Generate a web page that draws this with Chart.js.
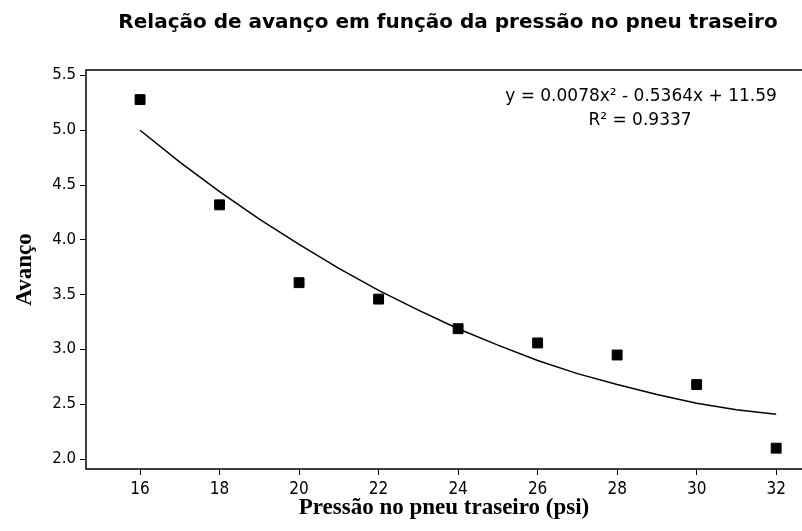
<!DOCTYPE html>
<html lang="pt">
<head>
  <meta charset="UTF-8">
  <title>Relação de avanço em função da pressão no pneu traseiro</title>
  <script src="https://cdn.jsdelivr.net/npm/chart.js"></script>
  <style>
    body { margin: 0; background: #fff; }
    canvas { display: block; }
  </style>
</head>
<body>

<canvas id="avancoChart" width="802" height="531"></canvas>

<script>
// pressão (psi) e avanço medido
const pressao = [16, 18, 20, 22, 24, 26, 28, 30, 32];
const avanco = [5.28, 4.32, 3.61, 3.46, 3.19, 3.06, 2.95, 2.68, 2.10];

// linha de tendência
const trendX = [16, 17, 18, 19, 20, 21, 22, 23, 24, 25, 26, 27, 28, 29, 30, 31, 32];
const trendY = [5.00, 4.71, 4.44, 4.19, 3.96, 3.74, 3.54, 3.36, 3.19, 3.04, 2.90, 2.78, 2.68, 2.59, 2.51, 2.45, 2.41];

const xTicks = [16, 18, 20, 22, 24, 26, 28, 30, 32];
const yTicks = [2.0, 2.5, 3.0, 3.5, 4.0, 4.5, 5.0, 5.5];

const titulo = 'Relação de avanço em função da pressão no pneu traseiro';
const equacao = ['y = 0.0078x² - 0.5364x + 11.59', 'R² = 0.9337'];

const ctx = document.getElementById('avancoChart').getContext('2d');

const textPlugin = {
  id: 'textos',
  afterDraw: (chart) => {
    const c = chart.ctx;
    const a = chart.chartArea;
    c.save();
    // moldura: topo, esquerda, base
    c.strokeStyle = '#000';
    c.lineWidth = 1.5;
    c.beginPath();
    c.moveTo(a.right, a.top);
    c.lineTo(a.left, a.top);
    c.lineTo(a.left, a.bottom);
    c.lineTo(a.right, a.bottom);
    c.stroke();

    c.fillStyle = '#000';
    c.textAlign = 'center';
    c.textBaseline = 'middle';
    c.font = 'bold 20px "DejaVu Sans", sans-serif';
    c.fillText(titulo, 448, 23);

    c.font = '17px "DejaVu Sans", sans-serif';
    c.fillText(equacao[0], 641, 97);
    c.fillText(equacao[1], 640, 121);
    c.restore();
  }
};

const chart = new Chart(ctx, {
  type: 'scatter',
  data: {
    datasets: [{
      label: 'Tendência',
      data: trendX.map((x, i) => ({ x: x, y: trendY[i] })),
      showLine: true,
      borderColor: '#000',
      borderWidth: 1.5,
      pointRadius: 0,
      tension: 0,
      order: 2
    }, {
      label: 'Avanço',
      data: pressao.map((x, i) => ({ x: x, y: avanco[i] })),
      pointStyle: 'rect',
      pointRadius: 7,
      pointBackgroundColor: '#000',
      pointBorderColor: '#000',
      pointBorderWidth: 1,
      order: 1
    }]
  },
  options: {
    responsive: false,
    animation: false,
    layout: { autoPadding: false, padding: { top: 70, right: 0, left: 0, bottom: 0 } },
    plugins: {
      legend: { display: false },
      tooltip: { enabled: false }
    },
    scales: {
      x: {
        type: 'linear',
        min: 14.64,
        max: 32.65,
        afterBuildTicks: (s) => { s.ticks = xTicks.map(v => ({ value: v })); },
        afterFit: (s) => { s.height = 62; s.paddingRight = 0; s.paddingLeft = 0; },
        ticks: {
          color: '#000',
          padding: 4,
          maxRotation: 0,
          font: { family: '"DejaVu Sans Condensed", "Liberation Sans Narrow", sans-serif', size: 17 },
          callback: v => v
        },
        grid: { drawOnChartArea: false, drawTicks: true, tickLength: 6, color: '#000', lineWidth: 1 },
        border: { display: false },
        title: {
          display: true,
          text: 'Pressão no pneu traseiro (psi)',
          color: '#000',
          font: { family: '"Liberation Serif", serif', size: 23, weight: 'bold' },
          padding: { top: 0, bottom: 9 }
        }
      },
      y: {
        type: 'linear',
        min: 1.91,
        max: 5.55,
        afterBuildTicks: (s) => { s.ticks = yTicks.map(v => ({ value: v })); },
        afterFit: (s) => { s.width = 86; },
        ticks: {
          color: '#000',
          padding: 4,
          font: { family: '"DejaVu Sans", sans-serif', size: 15 },
          callback: v => v.toFixed(1)
        },
        grid: { drawOnChartArea: false, drawTicks: true, tickLength: 6, color: '#000', lineWidth: 1 },
        border: { display: false },
        title: {
          display: true,
          text: 'Avanço',
          color: '#000',
          font: { family: '"Liberation Serif", serif', size: 23, weight: 'bold' },
          padding: { top: 11, bottom: 0 }
        }
      }
    }
  },
  plugins: [textPlugin]
});
</script>

</body>
</html>
